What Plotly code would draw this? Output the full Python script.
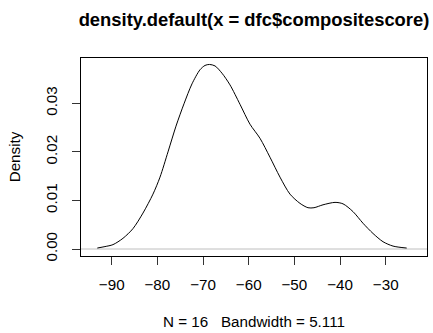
import plotly.graph_objects as go

# Density curve values
x_vals = [-93.15, -91.47, -89.72, -87.53, -85.34, -83.15, -80.96, -79.42, -77.67,
          -75.92, -74.17, -72.42, -70.67, -69.57, -68.59, -67.38, -65.85, -64.10,
          -61.91, -59.72, -57.53, -55.34, -53.15, -50.96, -48.77, -47.02, -45.71,
          -43.73, -41.10, -39.35, -37.16, -34.97, -32.78, -30.59, -28.40, -25.41]
density = [0.0002, 0.0005, 0.0009, 0.0022, 0.0042, 0.0074, 0.0113, 0.0148, 0.0200,
           0.0253, 0.0299, 0.0340, 0.0369, 0.0378, 0.0380, 0.0377, 0.0362, 0.0338,
           0.0298, 0.0257, 0.0228, 0.0189, 0.0148, 0.0113, 0.0094, 0.0085, 0.0085,
           0.0091, 0.0096, 0.0093, 0.0077, 0.0053, 0.0032, 0.0015, 0.0006, 0.0002]

x_ticks = [-90, -80, -70, -60, -50, -40, -30]
y_ticks = [0.00, 0.01, 0.02, 0.03]
y_tick_labels = ["0.00", "0.01", "0.02", "0.03"]

title_text = "density.default(x = dfc$compositescore)"
x_title = "N = 16\u00a0\u00a0 Bandwidth = 5.111"
y_title = "Density"

FONT = "Liberation Sans, Arial, sans-serif"
FS = 15.2

fig = go.Figure()

# zero reference line (R abline h=0 col gray)
fig.add_shape(type="line", xref="paper", yref="y", x0=0, x1=1, y0=0, y1=0,
              line=dict(color="#bebebe", width=1), layer="below")

fig.add_trace(go.Scatter(x=x_vals, y=density, mode="lines",
                         line=dict(color="black", width=1, shape="spline", smoothing=0.8),
                         hoverinfo="skip", showlegend=False))

fig.update_layout(
    width=433, height=333,
    margin=dict(l=81, r=6, t=58, b=77),
    paper_bgcolor="white", plot_bgcolor="white",
    font=dict(family=FONT, size=FS, color="black"),
    title=dict(text="<b>" + title_text + "</b>", x=(81 + 427) / 2 / 433, xanchor="center",
               y=1 - 20 / 333, yanchor="middle", yref="container",
               font=dict(size=18.4, family=FONT, color="black")),
    showlegend=False,
)

fig.update_xaxes(range=[-96.72, -20.96], tickvals=x_ticks, ticks="outside", ticklen=8,
                 tickcolor="#333", showgrid=False, zeroline=False, ticklabelstandoff=7,
                 showline=True, linecolor="black", linewidth=1, mirror=True,
                 title=dict(text=x_title, standoff=24, font=dict(size=FS)),
                 tickfont=dict(size=FS))
fig.update_yaxes(range=[-0.00144, 0.03933], tickvals=y_ticks, ticktext=y_tick_labels,
                 ticks="outside", ticklen=8, tickcolor="#333", tickangle=-90,
                 showgrid=False, zeroline=False, ticklabelstandoff=9,
                 showline=True, linecolor="black", linewidth=1, mirror=True,
                 title=dict(text=y_title, standoff=18, font=dict(size=FS)),
                 tickfont=dict(size=FS))

fig.write_html("out.html")
